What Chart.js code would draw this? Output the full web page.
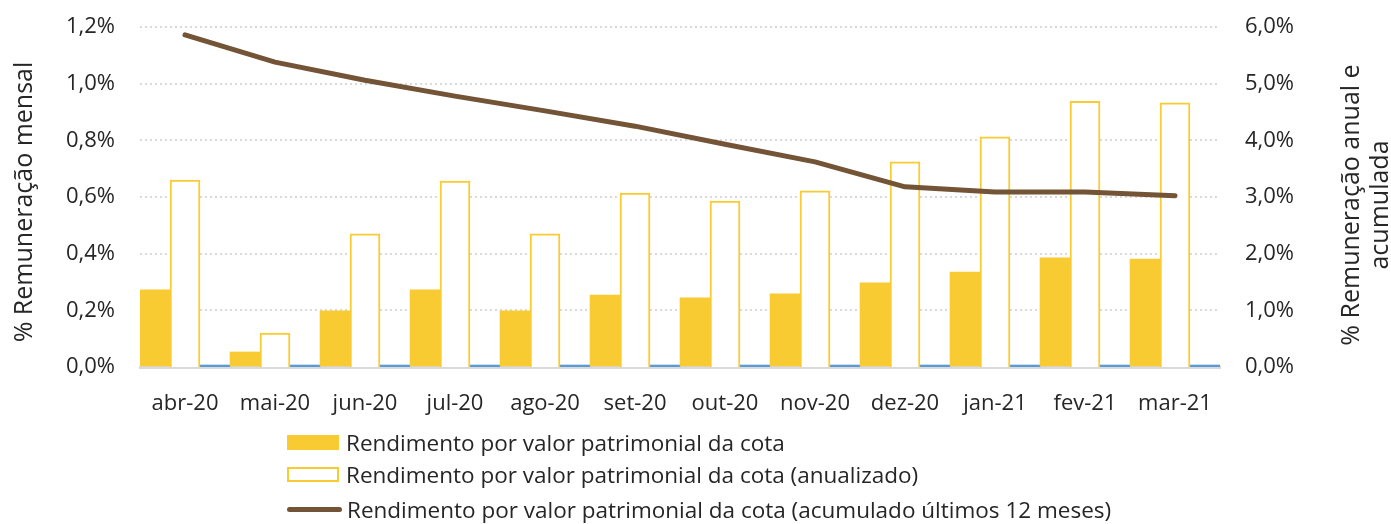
<!DOCTYPE html>
<html>
<head>
<meta charset="utf-8">
<script src="https://cdn.jsdelivr.net/npm/chart.js@4"></script>
<style>
  body { margin: 0; background: #fff; font-family: "Open Sans", sans-serif; }
  #wrap { position: relative; width: 1391px; height: 524px; }
  #chart { position: absolute; left: 0; top: 0; }
  .legend { position: absolute; left: 287px; top: 426px; color: #262626; font-size: 22.5px; }
  .legend .row { display: flex; align-items: center; height: 32px; }
  .legend .row.last { height: 38px; }
  .legend .sw { width: 52px; margin-right: 7px; box-sizing: border-box; }
  .sw.fill { height: 15px; background: #f9cb32; }
  .sw.outline { height: 15px; border: 2px solid #f9cb32; background: #fff; }
  .sw.line { height: 5px; border-radius: 3px; background: #735436; width: 55px; margin-right: 5px; }
</style>
</head>
<body>
<div id="wrap">
  <canvas id="chart" width="1391" height="430"></canvas>
  <div class="legend" id="legend"></div>
</div>
<script>
const months = ['abr-20','mai-20','jun-20','jul-20','ago-20','set-20','out-20','nov-20','dez-20','jan-21','fev-21','mar-21'];
const mensal = [0.272, 0.053, 0.198, 0.272, 0.198, 0.254, 0.244, 0.258, 0.297, 0.335, 0.385, 0.381];
const anualizado = [3.30, 0.60, 2.35, 3.28, 2.35, 3.07, 2.93, 3.11, 3.62, 4.06, 4.69, 4.66];
const acumulado = [5.86, 5.38, 5.06, 4.78, 4.52, 4.25, 3.93, 3.62, 3.18, 3.09, 3.09, 3.02];
const extra = [0, 0, 0, 0, 0, 0, 0, 0, 0, 0, 0, 0];

const labels = [
  'Rendimento por valor patrimonial da cota',
  'Rendimento por valor patrimonial da cota (anualizado)',
  'Rendimento por valor patrimonial da cota (acumulado últimos 12 meses)'
];

const YELLOW = '#f9cb32';
const BROWN = '#735436';
const FONT = '"Open Sans", sans-serif';

// legend built in html, one item per row, left aligned
const legendDiv = document.getElementById('legend');
['fill', 'outline', 'line'].forEach((kind, i) => {
  const row = document.createElement('div');
  row.className = 'row' + (i === 2 ? ' last' : '');
  row.innerHTML = `<div class="sw ${kind}"></div><span>${labels[i]}</span>`;
  legendDiv.appendChild(row);
});

const fmt = (v, d) => v.toFixed(d).replace('.', ',') + '%';

// axis titles drawn reading bottom-to-top on both sides
const axisTitles = {
  id: 'axisTitles',
  afterDraw(chart) {
    const ctx = chart.ctx;
    ctx.save();
    ctx.fillStyle = '#262626';
    ctx.font = '25px ' + FONT;
    ctx.textAlign = 'center';
    ctx.textBaseline = 'middle';
    ctx.translate(25, 202);
    ctx.rotate(-Math.PI / 2);
    ctx.fillText('% Remuneração mensal', 0, 0);
    ctx.restore();

    ctx.save();
    ctx.fillStyle = '#262626';
    ctx.font = '25px ' + FONT;
    ctx.textAlign = 'center';
    ctx.textBaseline = 'middle';
    ctx.translate(1352, 205);
    ctx.rotate(-Math.PI / 2);
    ctx.fillText('% Remuneração anual e', 0, 0);
    ctx.fillText('acumulada', 0, 29);
    ctx.restore();
  }
};

// fixed widths, no extra vertical padding from tick labels
const fitY = w => s => { s.width = w; s.paddingTop = 0; s.paddingBottom = 0; };

new Chart(document.getElementById('chart'), {
  data: {
    labels: months,
    datasets: [
      {
        type: 'line', label: labels[2], data: acumulado, yAxisID: 'y1',
        borderColor: BROWN, borderWidth: 5, pointRadius: 0, tension: 0,
        borderCapStyle: 'round', borderJoinStyle: 'round', order: 0
      },
      {
        type: 'bar', label: labels[0], data: mensal, yAxisID: 'y',
        backgroundColor: YELLOW, borderWidth: 0, order: 1,
        barPercentage: 1, categoryPercentage: 1
      },
      {
        type: 'bar', label: labels[1], data: anualizado, yAxisID: 'y1',
        backgroundColor: '#ffffff', borderColor: YELLOW, borderWidth: 2, order: 1,
        barPercentage: 1, categoryPercentage: 1
      },
      {
        type: 'bar', label: '', data: extra, yAxisID: 'y1',
        backgroundColor: '#5b9bd5', minBarLength: 2, order: 1,
        barPercentage: 1, categoryPercentage: 1
      }
    ]
  },
  options: {
    responsive: false,
    animation: false,
    layout: { padding: { top: 27, left: 0, right: 0, bottom: 0 } },
    plugins: { legend: { display: false }, tooltip: { enabled: false } },
    scales: {
      x: {
        grid: { display: false, drawTicks: false },
        border: { display: true, color: '#d9d9d9', width: 3 },
        ticks: { color: '#262626', font: { family: FONT, size: 22 }, padding: 24, maxRotation: 0 },
        afterFit: s => { s.height = 63; }
      },
      y: {
        position: 'left', min: 0, max: 1.2,
        grid: { color: '#d9d9d9', lineWidth: 2, drawTicks: false },
        border: { display: false, dash: [2, 3] },
        ticks: { stepSize: 0.2, color: '#262626', font: { family: FONT, size: 22 }, padding: 25, callback: v => fmt(v, 1) },
        afterFit: fitY(140)
      },
      y1: {
        position: 'right', min: 0, max: 6,
        grid: { display: false, drawTicks: false },
        border: { display: false },
        ticks: { stepSize: 1, color: '#262626', font: { family: FONT, size: 22 }, padding: 25, callback: v => fmt(v, 1) },
        afterFit: fitY(171)
      }
    }
  },
  plugins: [axisTitles]
});
</script>
</body>
</html>
